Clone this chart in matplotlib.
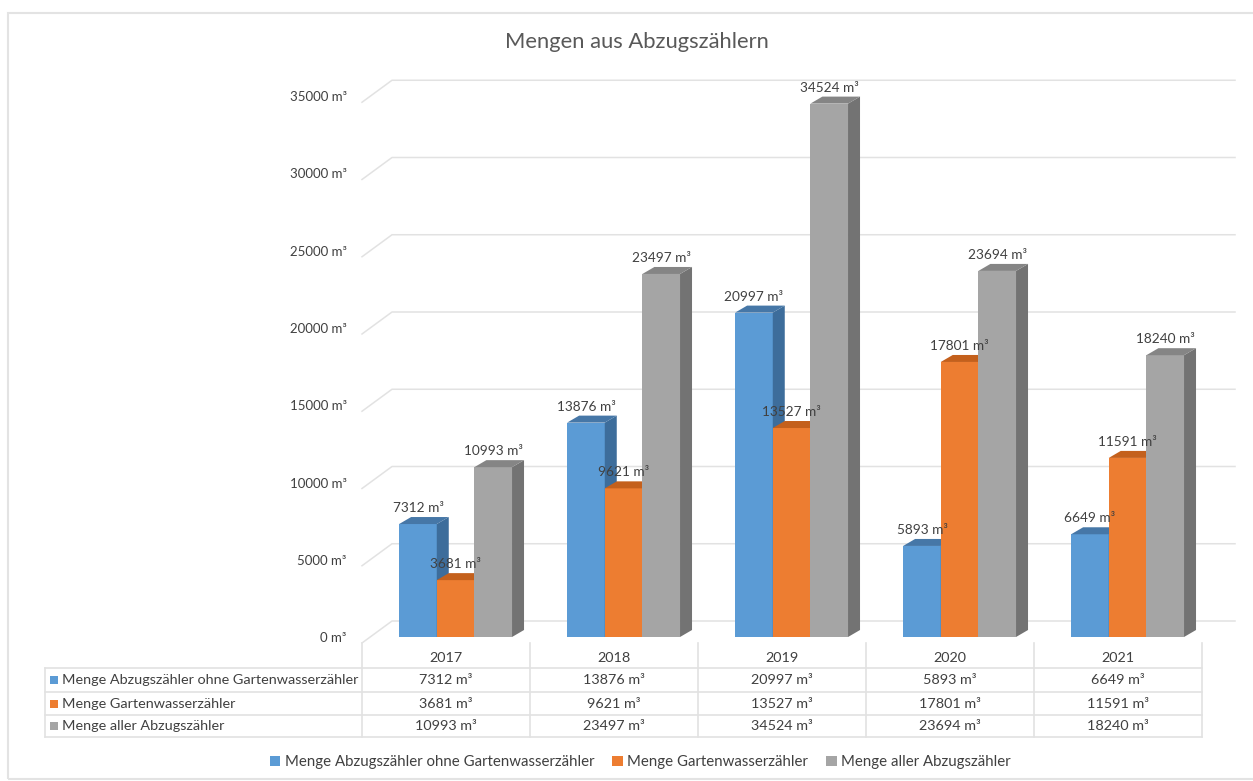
import matplotlib.pyplot as plt
from matplotlib.patches import Polygon, Rectangle, Patch

plt.rcParams['font.family'] = ['Lato', 'DejaVu Sans']

# Data
years = ['2017', '2018', '2019', '2020', '2021']
series = ['Menge Abzugszähler ohne Gartenwasserzähler',
          'Menge Gartenwasserzähler',
          'Menge aller Abzugszähler']
ohne_garten = [7312, 13876, 20997, 5893, 6649]
garten = [3681, 9621, 13527, 17801, 11591]
alle = [10993, 23497, 34524, 23694, 18240]
values = [ohne_garten, garten, alle]
yticks = [0, 5000, 10000, 15000, 20000, 25000, 30000, 35000]

front = ['#5B9BD5', '#ED7D31', '#A5A5A5']
side = ['#3D6D9B', '#B85A18', '#737373']
top = ['#4677A7', '#C4601C', '#858585']
grid_c = '#E2E2E2'
txt_c = '#404040'

W, H = 1253, 781
fig = plt.figure(figsize=(W / 100, H / 100), dpi=100)

# main axes: x 362..1202 px, y value 0 at 637 px
px_y = 0.01545          # px per unit
x0, x1 = 362, 1202
ytop = 37500
ax = fig.add_axes([x0 / W, (H - 637) / H, (x1 - x0) / W, ytop * px_y / H])
ax.set_xlim(-0.5, len(years) - 0.5)
ax.set_ylim(0, ytop)
ux = (x1 - x0) / len(years)  # px per category unit
for s in ax.spines.values():
    s.set_visible(False)
ax.set_xticks([])
ax.set_yticks(yticks)
ax.set_yticklabels([f'{v} m³' for v in yticks], fontsize=9.5, color=txt_c)
ax.tick_params(axis='y', length=0, pad=11)

# back wall gridlines (3d look)
d_front = 6 / px_y
d_back = 16 / px_y
xb = -0.5 + 30 / ux
xe = -0.5 + (1235 - x0) / ux
for v in yticks:
    ax.plot([-0.5, xb, xe], [v - d_front, v + d_back, v + d_back],
            color=grid_c, lw=1.1, clip_on=False, zorder=1)

# bars
bw = 0.224
shift = 0.057
ddx = 12 / ux
ddy = 7 / px_y
for i in range(len(years)):
    for j in range(3):
        v = values[j][i]
        xl = i + shift + (j - 1) * bw - bw / 2
        xr = xl + bw
        z = 3 + j
        ax.add_patch(Rectangle((xl, 0), bw, v, facecolor=front[j], edgecolor='none', zorder=z))
        ax.add_patch(Polygon([(xr, 0), (xr + ddx, ddy), (xr + ddx, v + ddy), (xr, v)],
                             closed=True, facecolor=side[j], edgecolor='none', zorder=z))
        ax.add_patch(Polygon([(xl, v), (xl + ddx, v + ddy), (xr + ddx, v + ddy), (xr, v)],
                             closed=True, facecolor=top[j], edgecolor='none', zorder=z))
        ax.annotate(f'{v} m³', (xl + bw / 2, v), xytext=(0, 11.5), textcoords='offset points',
                    ha='center', va='center', fontsize=9.8, color=txt_c, zorder=10)

# title
fig.text(0.508, 1 - 42 / H, 'Mengen aus Abzugszählern', ha='center', va='center',
         fontsize=15.8, color='#595959')

# data table
tl = 45
tab = fig.add_axes([tl / W, (H - 737) / H, (x1 - tl) / W, (737 - 643) / H])
tab.set_xlim(-0.5 - (x0 - tl) / ux, len(years) - 0.5)
tab.set_ylim(737, 643)
tab.axis('off')
xlab = tab.get_xlim()[0]
row_y = [668, 692, 715, 737]
for yy in row_y:
    tab.plot([xlab, len(years) - 0.5], [yy, yy], color=grid_c, lw=1.2, clip_on=False)
tab.plot([xlab, xlab], [668, 737], color=grid_c, lw=1.2, clip_on=False)
for i in range(len(years) + 1):
    tab.plot([i - 0.5, i - 0.5], [643, 737], color=grid_c, lw=1.2, clip_on=False)
for i, yr in enumerate(years):
    tab.text(i, 658, yr, ha='center', va='center', fontsize=10.4, color=txt_c)
    for j in range(3):
        tab.text(i, (row_y[j] + row_y[j + 1]) / 2, f'{values[j][i]} m³',
                 ha='center', va='center', fontsize=10.4, color=txt_c)
for j in range(3):
    yc = (row_y[j] + row_y[j + 1]) / 2
    tab.add_patch(Rectangle((xlab + 5 / ux, yc - 4), 8 / ux, 8, facecolor=front[j],
                            edgecolor='none', clip_on=False))
    tab.text(xlab + 17 / ux, yc, series[j], ha='left', va='center', fontsize=10.4, color=txt_c)

# legend
handles = [Patch(facecolor=front[j], edgecolor='none', label=series[j]) for j in range(3)]
fig.legend(handles=handles, loc='center', bbox_to_anchor=(0.511, 1 - 762 / H), ncol=3,
           frameon=False, fontsize=10.8, handlelength=0.7, handleheight=0.7,
           handletextpad=0.3, columnspacing=1.2, labelcolor=txt_c)

# outer frame
fig.patches.append(Rectangle((8 / W, (H - 779) / H), 1.1, (779 - 13) / H, transform=fig.transFigure,
                             facecolor='none', edgecolor='#E3E3E3', lw=1.5))

fig.savefig('out.png', dpi=100)
